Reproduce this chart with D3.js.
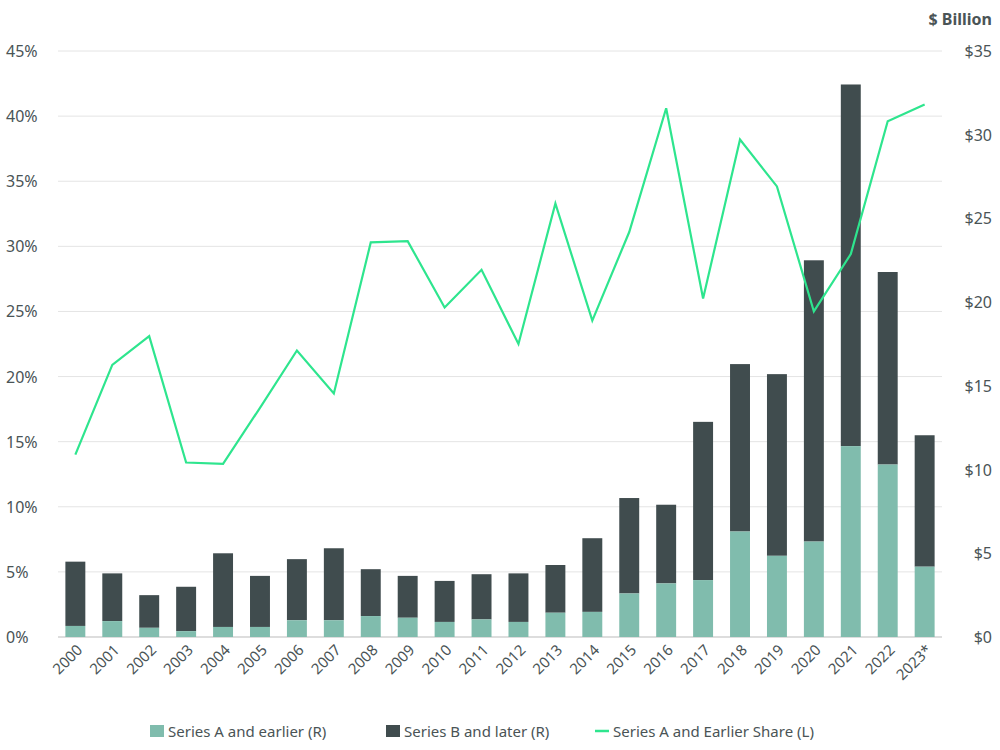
<!DOCTYPE html>
<meta charset="utf-8">
<style>
body { margin: 0; font-family: "Noto Sans", sans-serif; background: #fff; }
text { fill: #4a5456; }
</style>
<body>
<script src="https://cdn.jsdelivr.net/npm/d3@7"></script>
<script>
var years = ["2000","2001","2002","2003","2004","2005","2006","2007","2008","2009","2010","2011",
  "2012","2013","2014","2015","2016","2017","2018","2019","2020","2021","2022","2023*"];
var totalB = [4.5,3.8,2.5,3.0,5.0,3.65,4.65,5.3,4.05,3.65,3.35,3.75,3.8,4.3,5.9,8.3,7.9,12.85,16.3,15.7,22.5,33.0,21.8,12.05];
var seriesA = [0.66,0.95,0.55,0.35,0.6,0.6,1.0,1.0,1.25,1.15,0.9,1.05,0.9,1.45,1.5,2.6,3.2,3.4,6.3,4.85,5.7,11.4,10.3,4.2];
var shareA = [14.0,20.9,23.1,13.4,13.3,17.6,22.0,18.7,30.3,30.4,25.3,28.2,22.5,33.3,24.3,31.1,40.6,26.0,38.2,34.6,25.0,29.4,39.6,40.9];
var leftTicks = [0,5,10,15,20,25,30,35,40,45];
var rightTicks = [0,5,10,15,20,25,30,35];

var width = 1000, height = 750;
var m = {left: 58, right: 58, top: 51, bottom: 113};

var svg = d3.select("body").append("svg").attr("width", width).attr("height", height);

var x = d3.scaleBand().domain(years).range([m.left, width - m.right]).paddingInner(0.46).paddingOuter(0.2);
var yL = d3.scaleLinear().domain([0, 45]).range([height - m.bottom, m.top]);
var yR = d3.scaleLinear().domain([0, 35]).range([height - m.bottom, m.top]);

svg.append("g").selectAll("line").data(leftTicks).enter().append("line")
  .attr("x1", m.left).attr("x2", width - m.right)
  .attr("y1", function(d) { return yL(d); }).attr("y2", function(d) { return yL(d); })
  .attr("stroke", function(d) { return d === 0 ? "#bbb" : "#e4e4e4"; });

svg.append("g").selectAll("text").data(leftTicks).enter().append("text")
  .attr("x", 6).attr("y", function(d) { return yL(d) + 6; })
  .style("font-size", "16px").text(function(d) { return d + "%"; });

svg.append("g").selectAll("text").data(rightTicks).enter().append("text")
  .attr("x", width - 8).attr("text-anchor", "end").attr("y", function(d) { return yR(d) + 6; })
  .style("font-size", "16px").text(function(d) { return "$" + d; });

svg.append("text").attr("x", width - 8).attr("y", 25).attr("text-anchor", "end")
  .style("font-size", "16px").style("font-weight", "bold").text("$ Billion");

var bars = svg.append("g").selectAll("g").data(years).enter().append("g");
bars.append("rect")
  .attr("x", function(d) { return x(d); }).attr("width", x.bandwidth())
  .attr("y", function(d, i) { return yR(totalB[i]); })
  .attr("height", function(d, i) { return yR(seriesA[i]) - yR(totalB[i]); })
  .attr("fill", "#404c4e");
bars.append("rect")
  .attr("x", function(d) { return x(d); }).attr("width", x.bandwidth())
  .attr("y", function(d, i) { return yR(seriesA[i]); })
  .attr("height", function(d, i) { return yR(0) - yR(seriesA[i]); })
  .attr("fill", "#80bcad");

var line = d3.line()
  .x(function(d, i) { return x(years[i]) + x.bandwidth() / 2; })
  .y(function(d) { return yL(d); });
svg.append("path").datum(shareA).attr("d", line)
  .attr("fill", "none").attr("stroke", "#2ee58e").attr("stroke-width", 2.2);

svg.append("g").selectAll("text").data(years).enter().append("text")
  .attr("transform", function(d) { return "translate(" + (x(d) + x.bandwidth() / 2 + 8) + "," + (height - m.bottom + 14) + ") rotate(-45)"; })
  .attr("text-anchor", "end").style("font-size", "15px").text(function(d) { return d; });

var legend = [
  {label: "Series A and earlier (R)", type: "rect", color: "#80bcad", x: 150},
  {label: "Series B and later (R)", type: "rect", color: "#404c4e", x: 386},
  {label: "Series A and Earlier Share (L)", type: "line", color: "#2ee58e", x: 595}
];
var lg = svg.append("g").selectAll("g").data(legend).enter().append("g")
  .attr("transform", function(d) { return "translate(" + d.x + ",731)"; });
lg.filter(function(d) { return d.type === "rect"; }).append("rect")
  .attr("x", 0).attr("y", -6).attr("width", 14).attr("height", 12).attr("fill", function(d) { return d.color; });
lg.filter(function(d) { return d.type === "line"; }).append("line")
  .attr("x1", 0).attr("x2", 14).attr("stroke", function(d) { return d.color; }).attr("stroke-width", 2.5);
lg.append("text").attr("x", 18).attr("y", 6).style("font-size", "15px").text(function(d) { return d.label; });
</script>
</body>
